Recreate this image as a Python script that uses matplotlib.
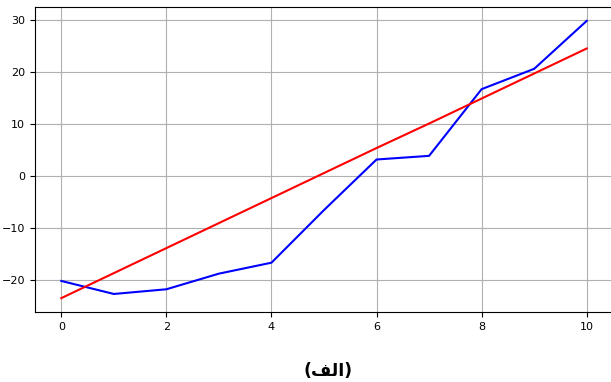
import matplotlib
matplotlib.use("Agg")
import matplotlib.pyplot as plt

x_vals = [0, 1, 2, 3, 4, 5, 6, 7, 8, 9, 10]
blue_vals = [-20.1, -22.6, -21.7, -18.7, -16.6, -6.5, 3.2, 3.9, 16.7, 20.6, 29.8]
red_vals = [-23.4, -18.6, -13.8, -9.0, -4.2, 0.6, 5.4, 10.1, 14.9, 19.7, 24.5]
x_ticks = [0, 2, 4, 6, 8, 10]
y_ticks = [-20, -10, 0, 10, 20, 30]
# "(الف)" in visual order with Arabic presentation forms (matplotlib has no shaping)
caption_visual = "(" + "\uFED2" + "\uFEDF" + "\uFE8D" + ")"

fig = plt.figure(figsize=(6.11, 3.82), dpi=100)
ax = fig.add_axes([35/611, 70/382, 578/611, 305/382])
ax.plot(x_vals, blue_vals, color="blue", lw=1.5)
ax.plot(x_vals, red_vals, color="red", lw=1.5)
ax.grid(True, color="#b0b0b0", lw=0.8)
ax.set_xticks(x_ticks)
ax.set_yticks(y_ticks)
ax.tick_params(labelsize=8)
fig.text(328/611, 1 - 371/382, caption_visual, ha="center", va="center",
         fontsize=12.5, fontweight="bold", family=["DejaVu Sans"])
fig.savefig("out.png", dpi=100)
